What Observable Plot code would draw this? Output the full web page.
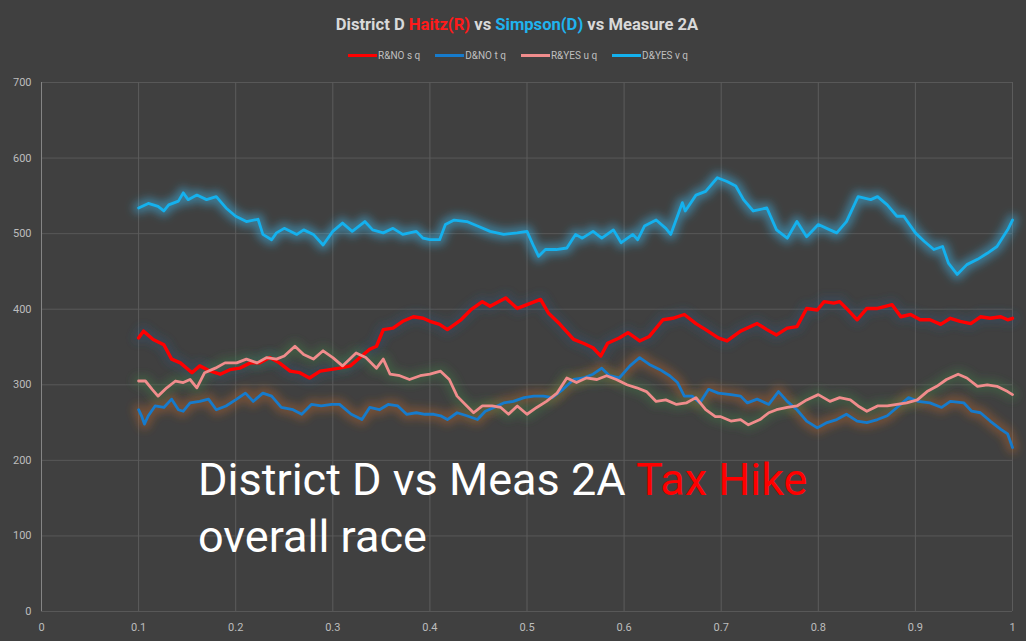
<!DOCTYPE html>
<html>
<head>
<meta charset="utf-8">
<script src="https://cdn.jsdelivr.net/npm/d3@7"></script>
<script src="https://cdn.jsdelivr.net/npm/@observablehq/plot@0.6"></script>
<style>
  html, body { margin: 0; padding: 0; background: #404040; }
  #wrap { position: relative; width: 1026px; height: 641px; background: #404040; overflow: hidden;
          font-family: Roboto, "Liberation Sans", sans-serif; }
  #title { position: absolute; top: 15px; left: 0; width: 1034px; text-align: center; font-weight: bold;
           font-size: 16.6px; line-height: 20px; color: #d9d9d9; white-space: nowrap; }
  #legend { position: absolute; top: 49px; left: 0; width: 1036px; height: 13px; display: flex;
            justify-content: center; align-items: center; gap: 15px; font-size: 10px; color: #bfbfbf; }
  .item { display: flex; align-items: center; gap: 1px; }
  .sw { display: inline-block; width: 29px; height: 2.5px; }
  #chart { position: absolute; top: 70px; left: 0; }
  #overlay { position: absolute; left: 198px; top: 451px; font-size: 45px; line-height: 57px; color: #ffffff;
             font-weight: 400; white-space: nowrap; }
</style>
</head>
<body>
<div id="wrap">
  <div id="title"></div>
  <div id="legend"></div>
  <div id="chart"></div>
  <div id="overlay"></div>
</div>
<script>
// ---- tick values ----
const xTicks = [0, 0.1, 0.2, 0.3, 0.4, 0.5, 0.6, 0.7, 0.8, 0.9, 1];
const yTicks = [0, 100, 200, 300, 400, 500, 600, 700];

// ---- series names & colours ----
const seriesNames = ["R&NO s q", "D&NO t q", "R&YES u q", "D&YES v q"];
const seriesColors = ["#ff0000", "#167bcc", "#f08c8c", "#14b1ee"];
const glowColors = ["#2c5677", "#b8662e", "#3f7a45", "#3cc6ff"];

// ---- R&NO ----
const rnoX = [0.100,0.105,0.115,0.126,0.134,0.143,0.155,0.163,0.174,0.184,0.194,0.204,0.215,0.225,0.235,0.245,0.256,0.266,0.276,0.287,0.297,0.307,0.318,0.328,0.338,0.345,0.352,0.362,0.372,0.383,0.393,0.400,0.410,0.418,0.432,0.442,0.454,0.462,0.478,0.490,0.500,0.514,0.522,0.534,0.548,0.558,0.568,0.576,0.583,0.595,0.604,0.616,0.626,0.640,0.650,0.662,0.674,0.684,0.697,0.706,0.720,0.737,0.747,0.757,0.768,0.778,0.788,0.799,0.806,0.816,0.822,0.829,0.840,0.850,0.861,0.876,0.885,0.895,0.905,0.915,0.926,0.936,0.946,0.957,0.967,0.977,0.988,0.995,1.000];
const rnoY = [362,371,360,353,334,329,316,325,318,314,320,322,329,329,336,329,318,316,309,318,320,322,325,336,347,351,373,375,384,390,388,384,380,373,386,399,410,404,415,401,406,413,395,380,360,355,349,338,355,362,369,358,364,386,388,393,381,373,362,358,371,381,373,366,375,377,401,399,410,408,410,401,386,401,401,406,390,393,386,386,380,388,384,381,390,388,390,386,388];

// ---- D&NO ----
const dnoX = [0.100,0.103,0.106,0.110,0.117,0.126,0.134,0.141,0.146,0.153,0.163,0.172,0.180,0.190,0.201,0.210,0.218,0.228,0.237,0.247,0.259,0.268,0.278,0.288,0.299,0.307,0.319,0.330,0.338,0.348,0.357,0.367,0.376,0.386,0.395,0.404,0.411,0.418,0.428,0.438,0.449,0.457,0.466,0.476,0.486,0.497,0.507,0.517,0.526,0.537,0.548,0.558,0.568,0.577,0.585,0.595,0.606,0.616,0.626,0.637,0.647,0.655,0.662,0.670,0.678,0.687,0.697,0.710,0.720,0.727,0.737,0.749,0.759,0.768,0.778,0.788,0.799,0.809,0.819,0.829,0.840,0.850,0.861,0.871,0.881,0.893,0.903,0.915,0.927,0.936,0.950,0.958,0.967,0.977,0.988,0.995,1.000];
const dnoY = [267,259,248,259,272,270,281,267,265,276,278,281,267,272,281,289,278,289,285,270,267,261,274,272,274,274,261,254,270,267,274,272,261,263,261,261,259,254,263,259,254,265,270,276,278,283,285,285,283,294,307,309,314,322,312,309,325,336,327,320,312,303,285,285,276,294,289,287,285,276,281,274,291,278,267,252,243,250,254,261,252,250,254,259,270,283,278,276,270,278,276,265,263,252,241,235,217];

// ---- R&YES ----
const ryesX = [0.100,0.107,0.114,0.120,0.129,0.138,0.146,0.153,0.160,0.168,0.179,0.189,0.201,0.211,0.222,0.232,0.242,0.250,0.261,0.270,0.280,0.290,0.300,0.310,0.324,0.334,0.345,0.352,0.359,0.369,0.379,0.390,0.400,0.411,0.420,0.428,0.438,0.445,0.454,0.464,0.473,0.481,0.490,0.500,0.510,0.520,0.531,0.541,0.551,0.561,0.572,0.582,0.592,0.603,0.613,0.623,0.633,0.643,0.654,0.664,0.674,0.684,0.694,0.699,0.710,0.720,0.728,0.740,0.749,0.757,0.768,0.778,0.788,0.800,0.812,0.822,0.833,0.841,0.850,0.861,0.871,0.881,0.891,0.902,0.912,0.922,0.932,0.944,0.953,0.964,0.974,0.984,0.995,1.000];
const ryesY = [305,305,294,285,296,305,303,307,296,316,322,329,329,334,329,336,334,338,351,340,334,345,336,325,342,336,322,334,314,312,307,312,314,318,307,285,272,263,272,272,270,261,272,261,270,278,289,309,303,309,307,312,307,300,296,291,278,280,274,276,283,267,258,258,252,254,247,254,263,267,270,272,280,287,278,283,280,272,265,272,272,274,276,280,291,298,307,314,309,298,300,298,291,287];

// ---- D&YES ----
const dyesX = [0.100,0.110,0.120,0.126,0.131,0.141,0.146,0.151,0.160,0.170,0.180,0.190,0.200,0.211,0.223,0.228,0.237,0.242,0.250,0.263,0.270,0.280,0.290,0.300,0.310,0.320,0.333,0.341,0.352,0.362,0.372,0.386,0.393,0.400,0.410,0.416,0.425,0.438,0.449,0.462,0.476,0.490,0.500,0.507,0.512,0.519,0.530,0.541,0.550,0.557,0.568,0.577,0.589,0.597,0.609,0.614,0.621,0.633,0.643,0.648,0.660,0.663,0.674,0.684,0.696,0.706,0.715,0.723,0.733,0.747,0.757,0.768,0.778,0.788,0.800,0.812,0.819,0.829,0.841,0.854,0.861,0.871,0.881,0.888,0.900,0.909,0.919,0.928,0.934,0.943,0.953,0.964,0.974,0.984,0.995,1.000];
const dyesY = [534,540,536,530,538,543,554,545,551,545,549,534,523,516,519,499,492,501,507,499,505,499,485,503,514,503,516,505,501,507,499,503,494,492,492,512,518,516,510,503,499,501,503,483,470,479,479,481,499,494,503,494,505,488,499,492,510,518,507,499,541,530,551,556,574,569,563,545,530,534,505,494,516,496,512,505,501,516,549,545,549,538,523,523,501,490,479,483,461,446,459,466,474,483,505,518];

// ---- build series ----
const toPts = (xs, ys) => xs.map((x, i) => ({x, y: ys[i]}));
const series = [
  toPts(rnoX, rnoY),
  toPts(dnoX, dnoY),
  toPts(ryesX, ryesY),
  toPts(dyesX, dyesY)
];
const widths = [3.4, 2.8, 2.8, 2.8];
const glowOpacity = [0.4, 0.45, 0.45, 0.45];

// ---- title ----
document.getElementById("title").innerHTML =
  'District D <span style="color:#ff1a1a">Haitz(R)</span> vs <span style="color:#1fb3ee">Simpson(D)</span> vs Measure 2A';

// ---- legend ----
const legend = d3.select("#legend");
seriesNames.forEach((name, i) => {
  const it = legend.append("div").attr("class", "item");
  it.append("span").attr("class", "sw").style("background", seriesColors[i]);
  it.append("span").text(name);
});

// ---- overlay text ----
document.getElementById("overlay").innerHTML =
  'District D vs Meas 2A <span style="color:#ff0000">Tax Hike</span><br>overall race';

// ---- chart ----
const marks = [
  Plot.ruleY(yTicks, {stroke: "#585858", strokeWidth: 1}),
  Plot.ruleX(xTicks.slice(1), {stroke: "#5c5c5c", strokeWidth: 1}),
  Plot.ruleX([xTicks[0]], {stroke: "#858585", strokeWidth: 1})
];
series.forEach((pts, i) => {
  marks.push(Plot.line(pts, {x: "x", y: "y", stroke: glowColors[i], strokeWidth: 11,
    strokeOpacity: glowOpacity[i], strokeLinejoin: "round", strokeLinecap: "round"}));
});
series.forEach((pts, i) => {
  marks.push(Plot.line(pts, {x: "x", y: "y", stroke: seriesColors[i], strokeWidth: widths[i],
    strokeLinejoin: "round", strokeLinecap: "round"}));
});
marks.push(Plot.axisX(xTicks, {tickSize: 0, tickPadding: 12, tickFormat: d => String(+d.toFixed(1)), fill: "#bdbdbd", fontSize: 11}));
marks.push(Plot.axisY(yTicks, {tickSize: 0, tickPadding: 10, fill: "#bdbdbd", fontSize: 11}));

const chart = Plot.plot({
  width: 1026,
  height: 571,
  marginTop: 12,
  marginBottom: 30,
  marginLeft: 41,
  marginRight: 14,
  x: {domain: [0, 1], label: null},
  y: {domain: [0, 700], label: null},
  style: {background: "transparent", color: "#bdbdbd", fontFamily: "Roboto, 'Liberation Sans', sans-serif", fontSize: "11px"},
  marks
});

// soft glow: blur the wide under-strokes
const svg = d3.select(chart);
const defs = svg.insert("defs", ":first-child");
defs.append("filter").attr("id", "glowblur")
  .attr("x", "-10%").attr("y", "-30%").attr("width", "120%").attr("height", "160%")
  .append("feGaussianBlur").attr("stdDeviation", 4);
svg.selectAll("g").filter(function () { return this.getAttribute("stroke-width") === "11"; })
  .attr("filter", "url(#glowblur)");

document.getElementById("chart").appendChild(chart);
</script>
</body>
</html>
